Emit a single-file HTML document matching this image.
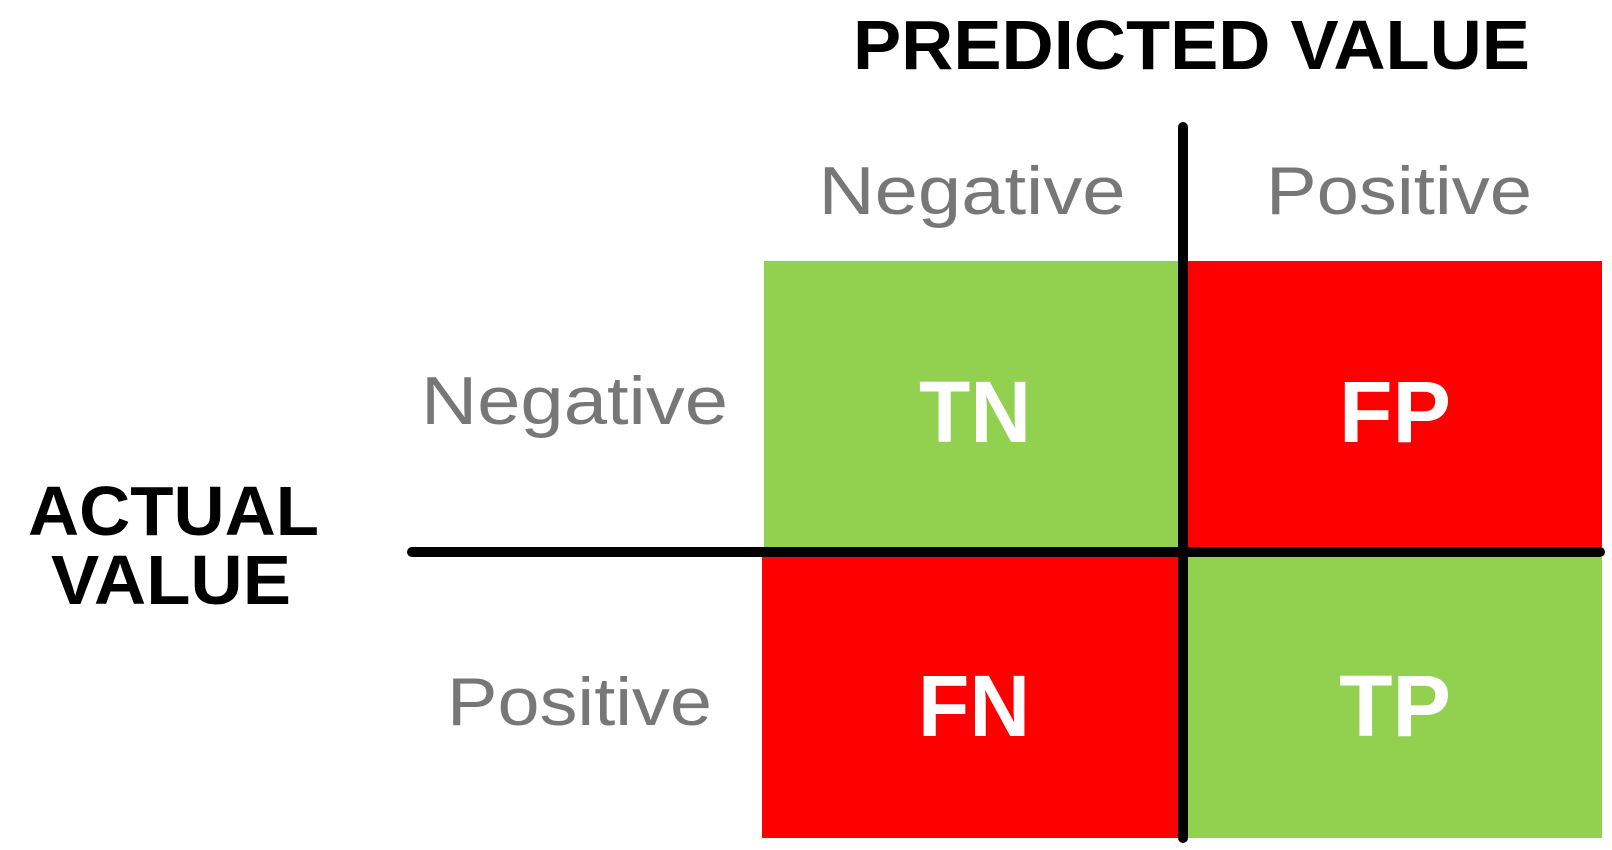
<!DOCTYPE html>
<html><head><meta charset="utf-8"><style>
html,body{margin:0;padding:0;background:#fff;width:1612px;height:850px;overflow:hidden}
text{font-family:"Liberation Sans",sans-serif}
</style></head><body>
<svg id="chart" width="1612" height="850" viewBox="0 0 1612 850" xmlns="http://www.w3.org/2000/svg">
<text x="853" y="69" font-size="70" font-weight="bold" fill="#000" textLength="677" lengthAdjust="spacingAndGlyphs">PREDICTED VALUE</text>
<text x="28" y="535" font-size="70" font-weight="bold" fill="#000" textLength="291" lengthAdjust="spacingAndGlyphs">ACTUAL</text>
<text x="51" y="604" font-size="70" font-weight="bold" fill="#000" textLength="240" lengthAdjust="spacingAndGlyphs">VALUE</text>
<g id="cells"></g>
<g id="labels"></g>
<line x1="1183" y1="127" x2="1183" y2="838" stroke="#000" stroke-width="10" stroke-linecap="round"/>
<line x1="412" y1="552" x2="1600" y2="552" stroke="#000" stroke-width="10" stroke-linecap="round"/>
</svg>
<script>
const predictedCategories = ["Negative", "Positive"];
const actualCategories = ["Negative", "Positive"];
const cellLabels = [["TN", "FP"], ["FN", "TP"]];
const cellCorrect = [[true, false], [false, true]];

const colX = [[764, 1188], [762, 1188]], colW = [[414, 414], [416, 414]];
const rowY = [261, 557], rowH = [286, 281];
const NS = "http://www.w3.org/2000/svg";
const cells = document.getElementById("cells");
const labels = document.getElementById("labels");
function mk(tag, attrs) { const e = document.createElementNS(NS, tag); for (const k in attrs) e.setAttribute(k, attrs[k]); return e; }

for (let r = 0; r < 2; r++) {
  for (let c = 0; c < 2; c++) {
    const rect = mk("rect", {x: colX[r][c], y: rowY[r], width: colW[r][c], height: rowH[r], fill: cellCorrect[r][c] ? "#92d050" : "#ff0000"});
    
    
    cells.appendChild(rect);
    const t = mk("text", {x: colX[r][c] + colW[r][c] / 2 + (c === 0 ? 4 : 0), y: r === 0 ? 442 : 736, "font-size": 87, "font-weight": "bold", fill: "#fff", "text-anchor": "middle", textLength: 112, lengthAdjust: "spacingAndGlyphs"});
    t.textContent = cellLabels[r][c];
    
    
    labels.appendChild(t);
  }
}
const colLabelX = [972, 1399], colLabelW = [307, 266];
predictedCategories.forEach((p, i) => {
  const t = mk("text", {x: colLabelX[i], y: 214, "font-size": 68, fill: "#777", "text-anchor": "middle", textLength: colLabelW[i], lengthAdjust: "spacingAndGlyphs"});
  t.textContent = p;
  
  
  labels.appendChild(t);
});
const rowLabelX = [728, 712], rowLabelY = [424, 725], rowLabelW = [307, 265];
actualCategories.forEach((a, i) => {
  const t = mk("text", {x: rowLabelX[i], y: rowLabelY[i], "font-size": 68, fill: "#777", "text-anchor": "end", textLength: rowLabelW[i], lengthAdjust: "spacingAndGlyphs"});
  t.textContent = a;
  
  
  labels.appendChild(t);
});
</script>
</body></html>
